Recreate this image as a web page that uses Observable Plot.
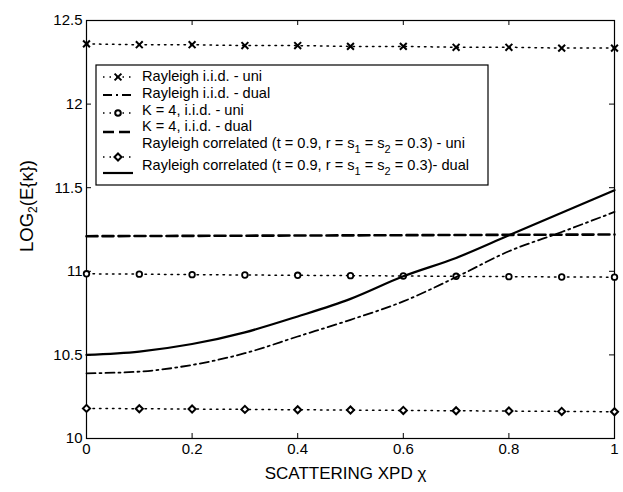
<!DOCTYPE html>
<html><head><meta charset="utf-8">
<script src="https://cdn.jsdelivr.net/npm/d3@7"></script>
<script src="https://cdn.jsdelivr.net/npm/@observablehq/plot@0.6"></script>
<style>body{margin:0;background:#fff}</style>
</head><body><div id="chart"></div><script>
// ---- data ----
const chi = [0, 0.1, 0.2, 0.3, 0.4, 0.5, 0.6, 0.7, 0.8, 0.9, 1.0];
const rayleighIidUni  = [12.36, 12.355, 12.355, 12.35, 12.35, 12.345, 12.345, 12.34, 12.34, 12.335, 12.335];
const rayleighIidDual = [10.39, 10.40, 10.44, 10.51, 10.61, 10.71, 10.82, 10.965, 11.12, 11.235, 11.355];
const k4IidUni        = [10.985, 10.983, 10.98, 10.978, 10.976, 10.974, 10.972, 10.97, 10.968, 10.966, 10.965];
const k4IidDual       = [11.21, 11.211, 11.212, 11.213, 11.214, 11.215, 11.216, 11.217, 11.218, 11.219, 11.22];
const corrUni         = [10.18, 10.178, 10.176, 10.174, 10.172, 10.17, 10.168, 10.166, 10.164, 10.162, 10.16];
const corrDual        = [10.5, 10.52, 10.565, 10.635, 10.73, 10.835, 10.97, 11.08, 11.215, 11.35, 11.485];
const xTicks = [0, 0.2, 0.4, 0.6, 0.8, 1];
const yTicks = [10, 10.5, 11, 11.5, 12, 12.5];
const xLabel = "SCATTERING XPD χ";
const legendLabels = [
  ["Rayleigh i.i.d. - uni"],
  ["Rayleigh i.i.d. - dual"],
  ["K = 4, i.i.d. - uni"],
  ["K = 4, i.i.d. - dual"],
  ["Rayleigh correlated (t = 0.9, r = s", "1", " = s", "2", " = 0.3) - uni"],
  ["Rayleigh correlated (t = 0.9, r = s", "1", " = s", "2", " = 0.3)- dual"]
];

const table = vals => chi.map((x, i) => ({x, y: vals[i]}));

const W = 623, H = 492, mL = 86, mR = 9, mT = 20, mB = 54;
const fw = W - mL - mR, fh = H - mT - mB;
const dotted = {stroke: "black", strokeWidth: 1.5, strokeDasharray: "1.5,5"};
const dashdot = {stroke: "black", strokeWidth: 1.8, strokeDasharray: "9,4,2,4"};
const dashed = {stroke: "black", strokeWidth: 2.6, strokeDasharray: "11,5"};
const solid = {stroke: "black", strokeWidth: 2.2};

const chart = Plot.plot({
  width: W, height: H,
  marginLeft: mL, marginRight: mR, marginTop: mT, marginBottom: mB,
  x: {domain: [0, 1]},
  y: {domain: [10, 12.5]},
  style: {fontFamily: "'Liberation Sans', Arial, sans-serif", background: "white", color: "black"},
  marks: [
    Plot.frame({stroke: "black", strokeWidth: 1.2}),
    Plot.tickX(xTicks, {x: d => d, stroke: "black", insetTop: fh - 5}),
    Plot.tickX(xTicks, {x: d => d, stroke: "black", insetBottom: fh - 5}),
    Plot.tickY(yTicks, {y: d => d, stroke: "black", insetRight: fw - 5}),
    Plot.tickY(yTicks, {y: d => d, stroke: "black", insetLeft: fw - 5}),
    Plot.axisX(xTicks, {tickSize: 0, tickPadding: 5, fontSize: 15, label: null, tickFormat: d => String(d)}),
    Plot.axisY(yTicks, {tickSize: 0, tickPadding: 4, fontSize: 15, label: null, tickFormat: d => String(d)}),
    Plot.line(table(rayleighIidUni), {x: "x", y: "y", ...dotted}),
    Plot.dot(table(rayleighIidUni), {x: "x", y: "y", symbol: "times", r: 3.2, stroke: "black", strokeWidth: 2}),
    Plot.line(table(k4IidUni), {x: "x", y: "y", ...dotted}),
    Plot.dot(table(k4IidUni), {x: "x", y: "y", symbol: "circle", r: 2.8, stroke: "black", strokeWidth: 1.8, fill: "white"}),
    Plot.line(table(corrUni), {x: "x", y: "y", ...dotted}),
    Plot.dot(table(corrUni), {x: "x", y: "y", symbol: "diamond2", r: 3.2, stroke: "black", strokeWidth: 2, fill: "white"}),
    Plot.line(table(k4IidDual), {x: "x", y: "y", ...dashed}),
    Plot.line(table(rayleighIidDual), {x: "x", y: "y", curve: "monotone-x", ...dashdot}),
    Plot.line(table(corrDual), {x: "x", y: "y", curve: "monotone-x", ...solid}),
    Plot.text([xLabel], {frameAnchor: "bottom", dy: 40, dx: -5, fontSize: 17, text: d => d})
  ]
});
document.getElementById("chart").appendChild(chart);

// ---- y-axis title with subscript ----
const svg = d3.select(chart);
const yt = svg.append("text")
  .attr("transform", "translate(33,206) rotate(-90)")
  .attr("text-anchor", "middle")
  .attr("font-size", 18.5)
  .attr("font-family", "'Liberation Sans', Arial, sans-serif")
  .attr("fill", "black");
yt.append("tspan").text("LOG");
yt.append("tspan").attr("font-size", 12).attr("dy", 4).text("2");
yt.append("tspan").attr("dy", -4).text("(E{κ})");

// ---- legend ----
const lg = svg.append("g").attr("font-family", "'Liberation Sans', Arial, sans-serif")
  .attr("font-size", 14.6).attr("text-anchor", "start");
lg.append("rect").attr("x", 96).attr("y", 65).attr("width", 392).attr("height", 120)
  .attr("fill", "white").attr("stroke", "black").attr("stroke-width", 1.2);
const rows = [
  {style: dotted, sym: d3.symbolTimes, r: 3.2, symY: 77, textY: 81},
  {style: dashdot, sym: null, symY: 95, textY: 98},
  {style: dotted, sym: d3.symbolCircle, r: 2.8, symY: 113, textY: 115},
  {style: dashed, sym: null, symY: 132, textY: 131},
  {style: dotted, sym: d3.symbolDiamond2, r: 3.2, symY: 157, textY: 148},
  {style: solid, sym: null, symY: 173, textY: 170}
];
rows.forEach((row, i) => {
  lg.append("line").attr("x1", 103).attr("x2", 133).attr("y1", row.symY).attr("y2", row.symY)
    .attr("stroke", "black").attr("stroke-width", row.style.strokeWidth)
    .attr("stroke-dasharray", row.style.strokeDasharray || null);
  if (row.sym) {
    lg.append("path").attr("d", d3.symbol(row.sym, Math.PI * row.r * row.r)())
      .attr("transform", `translate(118,${row.symY})`)
      .attr("fill", "white").attr("stroke", "black").attr("stroke-width", 2);
  }
  const t = lg.append("text").attr("x", 142).attr("y", row.textY).attr("fill", "black");
  const parts = legendLabels[i];
  parts.forEach((p, j) => {
    const sp = t.append("tspan").text(p);
    if (j % 2 === 1) sp.attr("font-size", 11).attr("dy", 5);
    else if (j > 0) sp.attr("dy", -5);
  });
});
</script></body></html>
